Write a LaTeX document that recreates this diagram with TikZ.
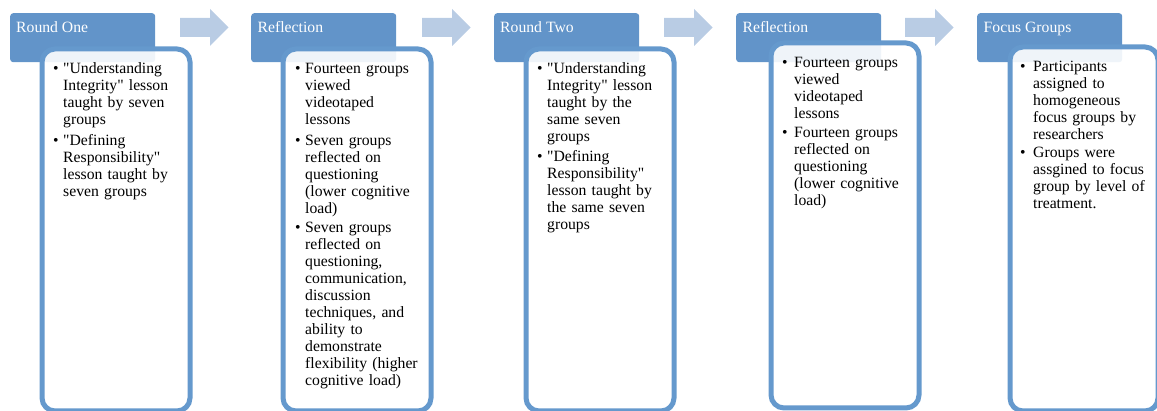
\documentclass[tikz,border=0pt]{standalone}
\usepackage{fontspec}
% straight quotes are wanted, so the TeX ligature mapping is switched off
\setmainfont{Liberation Serif}[Ligatures=TeXOff]
\definecolor{hdrblue}{RGB}{98,148,201}
\definecolor{bordblue}{RGB}{101,153,205}
\definecolor{arrowblue}{RGB}{185,204,228}
\begin{document}
\begin{tikzpicture}[x=1pt,y=-1pt,
  hdr/.style={fill=hdrblue, rounded corners=3pt, minimum width=145pt, minimum height=49pt,
    anchor=north west, inner sep=0pt},
  title/.style={anchor=base west, inner sep=0pt, text=white, font=\fontsize{15.7}{17}\selectfont},
  body/.style={draw=bordblue, line width=5pt, fill=white, fill opacity=0.9, rounded corners=13pt,
    minimum width=148pt, anchor=north west, inner sep=0pt},
  bul/.style={anchor=base west, inner sep=0pt, font=\fontsize{15.7}{17}\selectfont},
  item/.style={anchor=base west, inner sep=0pt, text width=150pt, align=left,
    font=\fontsize{15.7}{17}\selectfont},
  flow/.style={fill=arrowblue}]
\useasboundingbox (0,0) rectangle (1157,411);
\clip (0,0) rectangle (1157,411);

% block arrows between the stages
\foreach \x in {180,422,664,905}{
  \fill[flow] (\x,18) -- (\x+30,18) -- (\x+30,9) -- (\x+48.5,27.5)
    -- (\x+30,46) -- (\x+30,37) -- (\x,37) -- cycle;
}

% ---- Round One ----
\node[hdr] (h1) at (10,13) {};
\node[title] (t1) at (16,33) {Round One};
\node[body, minimum height=362pt] (b1) at (39.5,46.5) {};
\node[bul] (b1i1) at (53,74) {•};
\node[item] (b1x1) at (63,74) {"Understanding\\Integrity" lesson\\taught by seven\\groups};
\node[bul] (b1i2) at (53,146) {•};
\node[item] (b1x2) at (63,146) {"Defining\\Responsibility"\\lesson taught by\\seven groups};

% ---- Reflection ----
\node[hdr] (h2) at (251,13) {};
\node[title] (t2) at (257.5,33) {Reflection};
\node[body, minimum height=362pt] (b2) at (280.5,46.5) {};
\node[bul] (b2i1) at (295,74) {•};
\node[item] (b2x1) at (305,74) {Fourteen groups\\viewed\\videotaped\\lessons};
\node[bul] (b2i2) at (295,146) {•};
\node[item] (b2x2) at (305,146) {Seven groups\\reflected on\\questioning\\(lower cognitive\\load)};
\node[bul] (b2i3) at (295,233) {•};
\node[item] (b2x3) at (305,233) {Seven groups\\reflected on\\questioning,\\communication,\\discussion\\techniques, and\\ability to\\demonstrate\\flexibility (higher\\cognitive load)};

% ---- Round Two ----
\node[hdr] (h3) at (494,13) {};
\node[title] (t3) at (500,33) {Round Two};
\node[body, minimum height=362pt] (b3) at (523.5,46.5) {};
\node[bul] (b3i1) at (537,74) {•};
\node[item] (b3x1) at (547,74) {"Understanding\\Integrity" lesson\\taught by the\\same seven\\groups};
\node[bul] (b3i2) at (537,162) {•};
\node[item] (b3x2) at (547,162) {"Defining\\Responsibility"\\lesson taught by\\the same seven\\groups};

% ---- Reflection ----
\node[hdr] (h4) at (736,13) {};
\node[title] (t4) at (742.5,33) {Reflection};
\node[body, minimum height=365pt] (b4) at (768.5,40.5) {};
\node[bul] (b4i1) at (782,68) {•};
\node[item] (b4x1) at (794,68) {Fourteen groups\\viewed\\videotaped\\lessons};
\node[bul] (b4i2) at (782,138) {•};
\node[item] (b4x2) at (794,138) {Fourteen groups\\reflected on\\questioning\\(lower cognitive\\load)};

% ---- Focus Groups ----
\node[hdr] (h5) at (977,13) {};
\node[title] (t5) at (983.5,33) {Focus Groups};
\node[body, minimum height=364pt] (b5) at (1007.5,44.5) {};
\node[bul] (b5i1) at (1020,72) {•};
\node[item] (b5x1) at (1033,72) {Participants\\assigned to\\homogeneous\\focus groups by\\researchers};
\node[bul] (b5i2) at (1020,158) {•};
\node[item] (b5x2) at (1033,158) {Groups were\\assgined to focus\\group by level of\\treatment.};
\end{tikzpicture}
\end{document}
